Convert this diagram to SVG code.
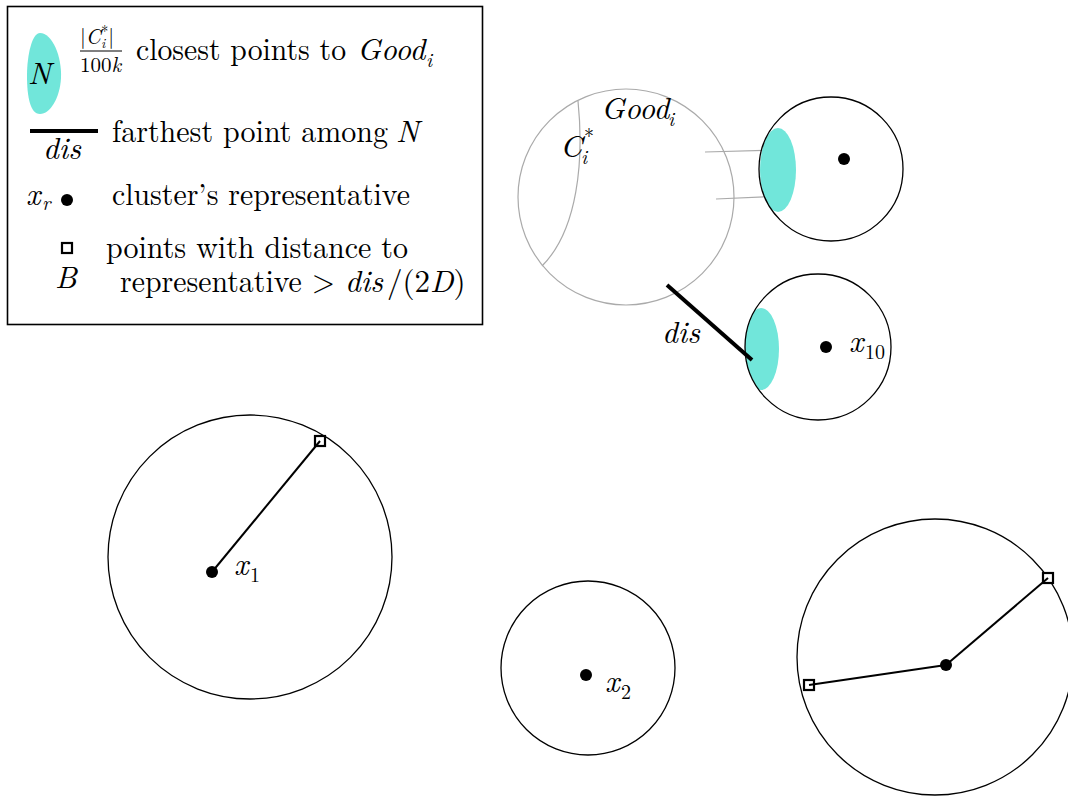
<svg xmlns="http://www.w3.org/2000/svg" width="1068" height="798" viewBox="0 0 1068 798" font-family="'Latin Modern Roman','CMU Serif','Liberation Serif','Times New Roman','DejaVu Serif',serif">
<style>
text{fill:#000}
.t{font-size:31px}
.m{font-style:italic}
.s{font-size:20px}
.c{fill:none;stroke:#000;stroke-width:1.3}
.g{fill:none;stroke:#aaa;stroke-width:1.2}
.cy{fill:#71e6da;stroke:none}
.dot{fill:#000}
.sq{fill:#fff;stroke:#000;stroke-width:2.2}
.ln{stroke:#000;stroke-width:2;fill:none}
</style>
<defs>
<clipPath id="clipA"><circle cx="831" cy="169" r="72"/></clipPath>
<clipPath id="clipB"><circle cx="818" cy="347" r="73"/></clipPath>
</defs>
<g id="legend">
<rect x="7.5" y="6.5" width="475" height="318" fill="#fff" stroke="#000" stroke-width="1.6"/>
<path class="cy" d="M40,33 C52,33 62,56 61,78 C60,98 50,114 40,114 C30,114 27,96 27,76 C27,55 32,33 40,33 Z"/>
<text class="t m" x="28" y="84">N</text>
<text x="80" y="44" font-size="21">|<tspan class="m">C</tspan><tspan font-size="14" dy="4" class="m">i</tspan><tspan font-size="14" dx="-4" dy="-12">*</tspan><tspan dy="8">|</tspan></text>
<line x1="80" y1="51" x2="122" y2="51" stroke="#000" stroke-width="1"/>
<text x="80" y="72" font-size="21">100<tspan class="m">k</tspan></text>
<text class="t" x="136" y="60" textLength="210" lengthAdjust="spacingAndGlyphs">closest points to</text>
<text class="t m" x="357" y="60">Good</text>
<text class="m s" x="426" y="67">i</text>
<line x1="30" y1="131" x2="98" y2="131" stroke="#000" stroke-width="4"/>
<text class="t m" x="43" y="159">dis</text>
<text class="t" x="112" y="142" textLength="276" lengthAdjust="spacingAndGlyphs">farthest point among</text>
<text class="t m" x="396" y="142">N</text>
<text class="t m" x="26" y="205">x</text>
<text class="m s" x="42" y="210">r</text>
<circle class="dot" cx="67" cy="200" r="6"/>
<text class="t" x="112" y="205" textLength="298" lengthAdjust="spacingAndGlyphs">cluster’s representative</text>
<rect class="sq" x="62" y="243" width="10" height="10"/>
<text class="t" x="106" y="258" textLength="302" lengthAdjust="spacingAndGlyphs">points with distance to</text>
<text class="t m" x="55" y="288">B</text>
<text class="t" x="120" y="292" textLength="215" lengthAdjust="spacingAndGlyphs">representative &gt;</text>
<text class="t m" x="345" y="292">dis</text>
<text class="t" x="387" y="292">/(2<tspan class="m">D</tspan>)</text>
</g>
<g id="good">
<circle class="g" cx="626" cy="197" r="108"/>
<path class="g" d="M578,101 C584,160 578,230 542,266"/>
<text class="t m" x="601" y="119">Good</text>
<text class="m s" x="668" y="126">i</text>
<text class="t m" x="560" y="157">C</text>
<text class="m s" x="581" y="164">i</text>
<text class="s" x="584" y="143">*</text>
<line class="g" x1="705" y1="152" x2="775" y2="150"/>
<line class="g" x1="716" y1="199" x2="781" y2="196"/>
</g>
<g id="clusterA">
<ellipse class="cy" cx="778" cy="170" rx="18" ry="42" clip-path="url(#clipA)"/>
<circle class="c" cx="831" cy="169" r="72"/>
<circle class="dot" cx="844" cy="159" r="6"/>
</g>
<g id="cluster10">
<ellipse class="cy" cx="761" cy="349" rx="18" ry="41" clip-path="url(#clipB)"/>
<circle class="c" cx="818" cy="347" r="73"/>
<circle class="dot" cx="826" cy="347" r="6"/>
<text class="t m" x="849" y="352">x</text>
<text class="s" x="865" y="359">10</text>
</g>
<g id="cluster1">
<circle class="c" cx="250" cy="557" r="142"/>
<circle class="dot" cx="212" cy="572" r="6"/>
<rect class="sq" x="315" y="436" width="10" height="10"/>
<text class="t m" x="234" y="575">x</text>
<text class="s" x="250" y="582">1</text>
</g>
<g id="cluster2">
<circle class="c" cx="588" cy="668" r="87"/>
<circle class="dot" cx="586" cy="675" r="6"/>
<text class="t m" x="605" y="692">x</text>
<text class="s" x="621" y="699">2</text>
</g>
<g id="cluster4">
<circle class="c" cx="935" cy="657" r="138"/>
<circle class="dot" cx="946" cy="665" r="6"/>
<rect class="sq" x="1043" y="573" width="10" height="10"/>
<rect class="sq" x="804" y="680" width="10" height="10"/>
</g>
<g id="connectors">
<line x1="667" y1="285" x2="752" y2="360" stroke="#000" stroke-width="4"/>
<text class="t m" x="662" y="343">dis</text>
<line class="ln" x1="212" y1="572" x2="320" y2="441"/>
<line class="ln" x1="946" y1="665" x2="1048" y2="578"/>
<line class="ln" x1="946" y1="665" x2="809" y2="685"/>
</g>
</svg>
